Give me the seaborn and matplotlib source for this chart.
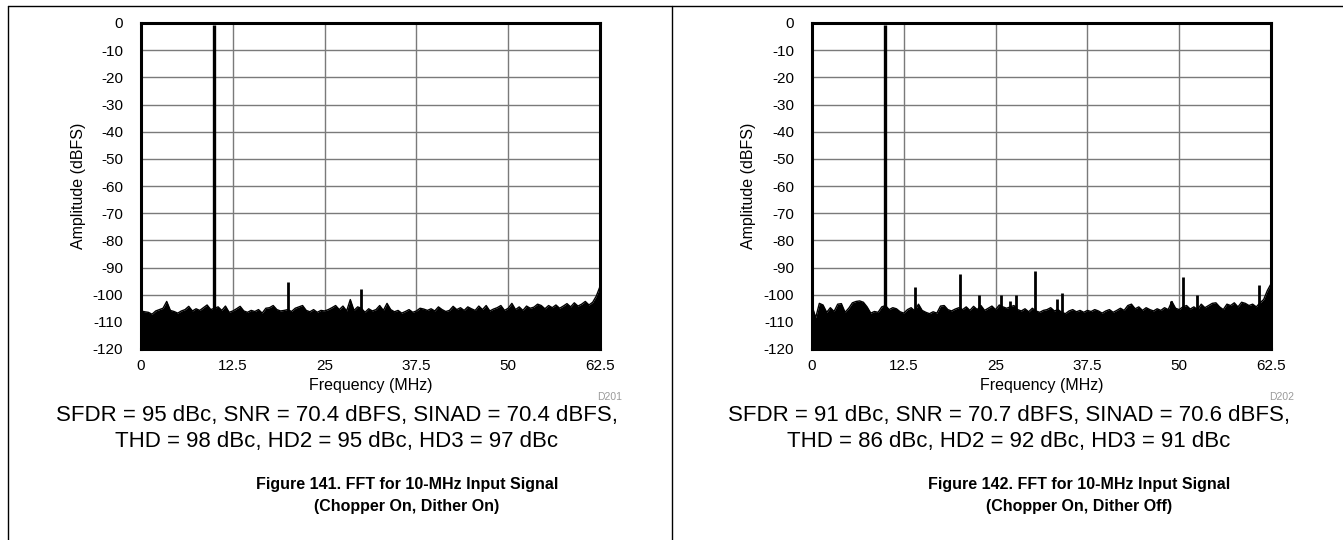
import numpy as np
import pandas as pd
import matplotlib
matplotlib.use("Agg")
import matplotlib.pyplot as plt
from matplotlib.lines import Line2D
import seaborn as sns

# FFT bins every 0.5 MHz (0 .. 62.5 MHz)
freq_mhz = np.arange(0, 62.51, 0.5)

# Figure 141 : chopper on, dither on -- top of the noise floor (dBFS)
noise_141 = [
    -106.0, -106.3, -106.5, -107.2, -106.0, -105.5, -105.0, -102.5, -105.8, -106.2,
    -106.8, -106.0, -105.5, -104.3, -106.0, -105.2, -105.8, -104.8, -103.8, -105.5,
    -105.0, -104.5, -105.8, -104.2, -106.5, -106.0, -105.2, -104.3, -106.0, -106.5,
    -105.8, -106.2, -105.5, -106.8, -105.0, -104.8, -104.0, -105.5, -106.0, -105.8,
    -105.5, -106.2, -105.0, -104.5, -104.0, -105.8, -106.3, -105.5, -106.5, -105.8,
    -106.0, -105.5, -104.8, -104.0, -105.5, -104.2, -106.0, -101.8, -105.8, -104.5,
    -105.0, -106.5, -105.2, -106.0, -105.5, -104.0, -105.8, -103.2, -105.5, -106.3,
    -105.8, -106.8, -106.2, -105.5, -106.5, -106.0, -105.0, -105.3, -105.8, -105.2,
    -106.0, -104.5, -105.5, -106.2, -105.8, -104.3, -105.5, -104.8, -105.8, -104.5,
    -105.2, -105.8, -104.2, -105.5, -104.0, -106.0, -105.3, -104.8, -104.0, -105.8,
    -105.0, -103.2, -105.5, -104.5, -105.8, -104.2, -105.0, -104.6, -103.5, -104.0,
    -105.2, -104.0, -104.8, -103.8, -105.0, -104.2, -103.3, -104.5, -103.0, -104.2,
    -103.5, -102.5, -103.8, -102.8, -100.5, -97.0,
]
spur_freq_141 = [10.0, 20.0, 30.0]
spur_amp_141 = [-0.8, -95.3, -97.8]

# Figure 142 : chopper on, dither off
noise_142 = [
    -104.0, -108.5, -103.2, -103.8, -106.5, -104.8, -106.2, -103.5, -103.3, -106.5,
    -105.0, -103.0, -102.5, -102.3, -102.8, -104.5, -106.8, -106.2, -106.5, -104.5,
    -104.0, -105.5, -104.8, -105.2, -106.3, -106.8, -105.5, -104.8, -106.0, -103.5,
    -105.8, -106.5, -107.0, -106.3, -106.8, -104.2, -104.0, -105.5, -106.0, -105.3,
    -104.8, -105.5, -104.5, -105.8, -104.3, -105.5, -104.0, -105.8, -105.0, -104.2,
    -105.5, -103.8, -104.5, -105.0, -104.5, -104.0, -105.5, -106.0, -105.2, -106.3,
    -105.0, -106.0, -106.5, -105.8, -105.5, -104.8, -106.0, -105.5, -106.5, -107.0,
    -106.0, -105.5, -106.3, -105.8, -106.5, -105.8, -106.2, -105.5, -106.0, -106.8,
    -106.0, -105.5, -106.5, -105.8, -105.0, -105.8, -104.0, -103.5, -105.2, -104.5,
    -105.8, -104.8, -105.5, -106.0, -105.2, -105.8, -104.8, -105.5, -102.5, -105.0,
    -105.5, -104.5, -104.0, -105.3, -104.5, -105.5, -103.5, -104.8, -104.0, -103.2,
    -103.0, -104.5, -105.5, -103.5, -104.0, -103.0, -104.5, -102.8, -103.2, -104.0,
    -103.5, -104.5, -103.0, -101.8, -98.5, -96.0,
]
spur_freq_142 = [10.0, 14.0, 20.2, 22.7, 25.8, 26.9, 27.8, 30.3, 33.4, 34.1, 48.9, 50.5, 52.4, 60.8]
spur_amp_142 = [-0.8, -97.2, -92.5, -100.0, -100.0, -102.5, -100.0, -91.3, -101.5, -99.3,
                -102.5, -93.5, -100.0, -96.6]

x_ticks = [0, 12.5, 25, 37.5, 50, 62.5]
x_tick_labels = ["0", "12.5", "25", "37.5", "50", "62.5"]
y_ticks = list(range(0, -121, -10))

panels = [
    dict(noise=noise_141, sf=spur_freq_141, sa=spur_amp_141, code="D201",
         stats=["SFDR = 95 dBc, SNR = 70.4 dBFS, SINAD = 70.4 dBFS,",
                "THD = 98 dBc, HD2 = 95 dBc, HD3 = 97 dBc"],
         caption=["Figure 141. FFT for 10-MHz Input Signal", "(Chopper On, Dither On)"]),
    dict(noise=noise_142, sf=spur_freq_142, sa=spur_amp_142, code="D202",
         stats=["SFDR = 91 dBc, SNR = 70.7 dBFS, SINAD = 70.6 dBFS,",
                "THD = 86 dBc, HD2 = 92 dBc, HD3 = 91 dBc"],
         caption=["Figure 142. FFT for 10-MHz Input Signal", "(Chopper On, Dither Off)"]),
]

sns.set_style("white")
plt.rcParams['font.family'] = ['Liberation Sans', 'DejaVu Sans']
plt.rcParams['axes.unicode_minus'] = False
plt.rcParams['text.color'] = 'black'
plt.rcParams['axes.labelcolor'] = 'black'

W, H = 1343, 540
fig = plt.figure(figsize=(W / 100, H / 100), dpi=100)

# page frame of the datasheet
fig.add_artist(Line2D([8 / W, 1], [1 - 6 / H, 1 - 6 / H], color="black", lw=1.0))
fig.add_artist(Line2D([8 / W, 8 / W], [0, 1 - 6 / H], color="black", lw=1.0))
fig.add_artist(Line2D([672 / W, 672 / W], [0, 1 - 6 / H], color="black", lw=1.0))

for i, p in enumerate(panels):
    x0 = 141 if i == 0 else 812
    ax = fig.add_axes([x0 / W, 1 - 349 / H, 459 / W, 326 / H])
    df = pd.DataFrame({"freq": freq_mhz, "amp": p["noise"]})

    ax.fill_between(df["freq"], df["amp"], -120, color="black", lw=0, zorder=3)
    sns.lineplot(data=df, x="freq", y="amp", color="black", lw=1.0, ax=ax, zorder=3)
    ax.vlines(p["sf"][0], -120, p["sa"][0], color="black", lw=2.4, zorder=4)
    ax.vlines(p["sf"][1:], -120, p["sa"][1:], color="black", lw=2.0, zorder=4)

    ax.set_xlim(0, 62.5)
    ax.set_ylim(-120, 0)
    ax.set_xticks(x_ticks)
    ax.set_xticklabels(x_tick_labels)
    ax.set_yticks(y_ticks)
    ax.set_yticklabels([str(v) for v in y_ticks])
    ax.tick_params(length=0, labelsize=11, colors="black")
    ax.tick_params(axis="y", pad=13)
    ax.tick_params(axis="x", pad=7)
    ax.set_axisbelow(True)
    ax.grid(True, color="#7a7a7a", lw=1.0)
    for s in ax.spines.values():
        s.set_linewidth(2.2)
        s.set_color("black")
    ax.set_xlabel("Frequency (MHz)", fontsize=11.5, labelpad=4)
    ax.set_ylabel("Amplitude (dBFS)", fontsize=11.5, labelpad=5)

    off = 0 if i == 0 else 672
    fig.text((off + 622) / W, 1 - 397 / H, p["code"], fontsize=7.5, color="#9a9a9a",
             ha="right", va="center")
    fig.text((off + 337) / W, 1 - 416 / H, p["stats"][0], fontsize=16, ha="center", va="center")
    fig.text((off + 337) / W, 1 - 441 / H, p["stats"][1], fontsize=16, ha="center", va="center")
    fig.text((off + 407) / W, 1 - 485 / H, p["caption"][0], fontsize=11.5, fontweight="bold",
             ha="center", va="center")
    fig.text((off + 407) / W, 1 - 507 / H, p["caption"][1], fontsize=11.5, fontweight="bold",
             ha="center", va="center")

fig.savefig("out.png", dpi=100)
